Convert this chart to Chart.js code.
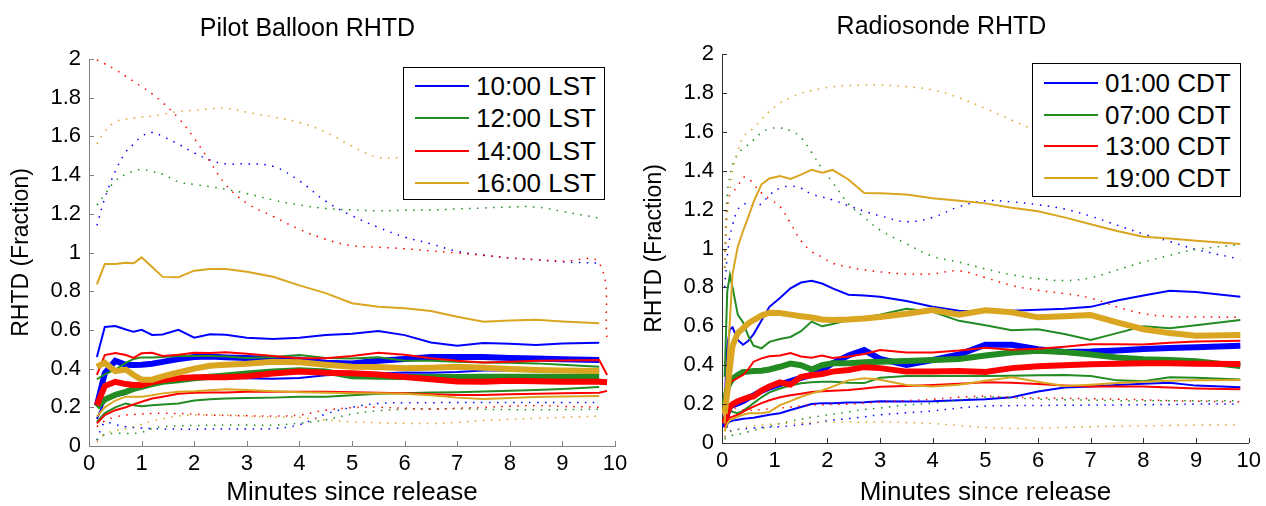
<!DOCTYPE html>
<html>
<head>
<meta charset="utf-8">
<script src="https://cdn.jsdelivr.net/npm/chart.js@4.4.1/dist/chart.umd.min.js"></script>
<style>
body { margin: 0; background: #fff; font-family: "Liberation Sans", Arial, sans-serif; }
#wrap { position: relative; width: 1266px; height: 506px; overflow: hidden; }
.panel { position: absolute; top: 0; width: 633px; height: 506px; }
.legend { position: absolute; background: #fff; border: 1px solid #000; box-sizing: border-box; }
.legend .sw { position: absolute; height: 2px; }
.legend .tx { position: absolute; font-size: 26px; line-height: 30px; color: #000; white-space: nowrap; }
</style>
</head>
<body>
<div id="wrap">
  <div class="panel" style="left:0"><canvas id="pb" width="633" height="506"></canvas></div>
  <div class="panel" style="left:633px"><canvas id="rs" width="633" height="506"></canvas></div>
  <div class="legend" id="pbLegend" style="left:403px;top:67px;width:202px;height:133px"></div>
  <div class="legend" id="rsLegend" style="left:1032px;top:63px;width:209px;height:134px"></div>
</div>
<script>
// ---- Pilot balloon (left) ----
const pbTime = [0.15,0.3,0.5,0.7,0.85,1,1.2,1.4,1.7,2,2.3,2.6,3,3.5,4,4.5,5,5.5,6,6.5,7,7.5,8,8.5,9,9.7,9.85];
const pbLabels = ['10:00 LST','12:00 LST','14:00 LST','16:00 LST'];

const pb10HiDot = [1.14,1.28,1.42,1.52,1.56,1.60,1.62,1.60,1.56,1.515,1.478,1.458,1.458,1.445,1.37,1.265,1.19,1.13,1.08,1.045,1.006,0.987,0.972,0.962,0.952,0.945];
const pb10Hi    = [0.46,0.615,0.62,0.602,0.59,0.60,0.574,0.576,0.60,0.56,0.577,0.575,0.56,0.553,0.56,0.574,0.58,0.594,0.573,0.535,0.518,0.532,0.528,0.522,0.53,0.534];
const pb10Med   = [0.21,0.376,0.44,0.42,0.418,0.42,0.425,0.435,0.45,0.46,0.462,0.458,0.455,0.45,0.446,0.43,0.427,0.44,0.45,0.46,0.46,0.46,0.455,0.452,0.448,0.444];
const pb10Lo    = [0.14,0.235,0.255,0.27,0.29,0.305,0.32,0.33,0.34,0.35,0.352,0.352,0.35,0.348,0.352,0.365,0.372,0.375,0.38,0.378,0.382,0.39,0.39,0.39,0.39,0.39];
const pb10LoDot = [0.03,0.12,0.11,0.1,0.095,0.093,0.09,0.088,0.087,0.086,0.088,0.088,0.088,0.09,0.11,0.165,0.2,0.22,0.223,0.224,0.225,0.225,0.225,0.225,0.225,0.225];

const pb12HiDot = [1.245,1.30,1.37,1.405,1.42,1.43,1.418,1.405,1.365,1.352,1.34,1.327,1.305,1.271,1.246,1.228,1.22,1.216,1.218,1.22,1.225,1.23,1.235,1.235,1.212,1.178];
const pb12Hi    = [0.345,0.37,0.395,0.43,0.45,0.458,0.458,0.46,0.465,0.465,0.465,0.462,0.455,0.46,0.47,0.455,0.452,0.458,0.44,0.44,0.435,0.432,0.43,0.427,0.42,0.41];
const pb12Med   = [0.2,0.24,0.265,0.28,0.295,0.306,0.32,0.332,0.34,0.35,0.358,0.365,0.375,0.385,0.392,0.385,0.36,0.358,0.357,0.356,0.356,0.358,0.358,0.358,0.358,0.36];
const pb12Lo    = [0.125,0.17,0.2,0.22,0.21,0.206,0.21,0.215,0.22,0.235,0.242,0.245,0.248,0.25,0.255,0.255,0.262,0.27,0.273,0.276,0.278,0.282,0.285,0.29,0.295,0.305];
const pb12LoDot = [0.03,0.06,0.065,0.065,0.065,0.07,0.09,0.1,0.104,0.106,0.107,0.108,0.108,0.108,0.118,0.135,0.165,0.182,0.19,0.193,0.192,0.19,0.188,0.187,0.188,0.19];

const pb14HiDot = [1.995,1.975,1.945,1.91,1.885,1.857,1.82,1.775,1.695,1.59,1.47,1.35,1.255,1.187,1.12,1.068,1.035,1.027,1.02,1.008,0.998,0.985,0.972,0.963,0.955,0.945,0.55];
const pb14Hi    = [0.367,0.47,0.48,0.47,0.455,0.479,0.482,0.465,0.472,0.482,0.48,0.484,0.477,0.465,0.453,0.453,0.465,0.482,0.472,0.453,0.44,0.432,0.436,0.44,0.442,0.444,0.367];
const pb14Med   = [0.21,0.31,0.332,0.32,0.315,0.315,0.33,0.341,0.35,0.355,0.355,0.355,0.36,0.375,0.385,0.378,0.376,0.37,0.357,0.345,0.333,0.332,0.337,0.335,0.332,0.332,0.33];
const pb14Lo    = [0.117,0.16,0.185,0.2,0.215,0.229,0.245,0.255,0.27,0.275,0.276,0.277,0.28,0.28,0.28,0.28,0.278,0.275,0.272,0.267,0.263,0.264,0.267,0.27,0.273,0.275,0.285];
const pb14LoDot = [0.1,0.13,0.15,0.16,0.163,0.165,0.168,0.169,0.168,0.165,0.16,0.158,0.156,0.155,0.16,0.185,0.198,0.2,0.195,0.19,0.195,0.2,0.205,0.208,0.205,0.2];

const pb16HiDot = [1.56,1.625,1.675,1.688,1.695,1.70,1.705,1.715,1.728,1.735,1.742,1.745,1.725,1.70,1.672,1.622,1.55,1.492,1.49,1.48,1.47,1.46,1.45,1.44,1.43,1.42];
const pb16Hi    = [0.835,0.94,0.94,0.947,0.944,0.975,0.925,0.874,0.872,0.906,0.915,0.915,0.9,0.875,0.83,0.79,0.738,0.72,0.712,0.698,0.668,0.642,0.648,0.652,0.643,0.634];
const pb16Med   = [0.41,0.43,0.387,0.395,0.367,0.343,0.343,0.36,0.38,0.40,0.415,0.42,0.425,0.435,0.433,0.42,0.41,0.408,0.402,0.405,0.41,0.405,0.398,0.393,0.39,0.388];
const pb16Lo    = [0.152,0.2,0.235,0.255,0.255,0.255,0.262,0.272,0.28,0.283,0.288,0.293,0.29,0.283,0.278,0.275,0.272,0.272,0.27,0.262,0.25,0.243,0.248,0.253,0.256,0.258];
const pb16LoDot = [0.02,0.06,0.08,0.09,0.1,0.112,0.13,0.14,0.155,0.16,0.16,0.16,0.155,0.15,0.148,0.135,0.125,0.12,0.117,0.116,0.122,0.132,0.138,0.143,0.148,0.155];

// ---- Radiosonde (right) ----
const rsTime = [0.05,0.1,0.15,0.2,0.3,0.4,0.5,0.6,0.75,0.9,1.1,1.3,1.5,1.7,1.9,2.1,2.4,2.7,3,3.5,4,4.5,5,5.5,6,6.5,7,7.5,8,8.5,9,9.84];
const rsLabels = ['01:00 CDT','07:00 CDT','13:00 CDT','19:00 CDT'];

const rs01HiDot = [0.8,0.96,1.06,1.12,1.2,1.225,1.232,1.22,1.23,1.275,1.31,1.32,1.31,1.28,1.265,1.25,1.22,1.192,1.168,1.138,1.16,1.215,1.245,1.24,1.225,1.203,1.166,1.12,1.075,1.036,0.995,0.945];
const rs01Hi    = [0.2,0.5,0.585,0.595,0.53,0.505,0.525,0.56,0.63,0.7,0.745,0.795,0.825,0.834,0.82,0.795,0.762,0.758,0.752,0.73,0.701,0.68,0.678,0.68,0.685,0.69,0.7,0.733,0.758,0.783,0.776,0.752];
const rs01Med   = [0.08,0.15,0.187,0.195,0.204,0.215,0.232,0.245,0.268,0.285,0.302,0.318,0.335,0.35,0.375,0.41,0.45,0.478,0.432,0.401,0.427,0.455,0.505,0.505,0.482,0.468,0.47,0.476,0.483,0.488,0.492,0.5];
const rs01Lo    = [0.08,0.1,0.11,0.115,0.12,0.125,0.127,0.13,0.138,0.145,0.153,0.17,0.185,0.2,0.205,0.205,0.208,0.21,0.215,0.213,0.215,0.22,0.225,0.235,0.265,0.285,0.29,0.298,0.305,0.31,0.295,0.286];
const rs01LoDot = [0.03,0.05,0.06,0.065,0.07,0.072,0.075,0.077,0.08,0.082,0.084,0.088,0.095,0.1,0.11,0.118,0.125,0.135,0.145,0.155,0.165,0.18,0.19,0.192,0.193,0.194,0.195,0.196,0.197,0.198,0.2,0.2];

const rs07HiDot = [0.9,1.28,1.37,1.43,1.485,1.515,1.535,1.558,1.595,1.615,1.62,1.605,1.57,1.495,1.41,1.34,1.23,1.16,1.095,1.025,0.96,0.93,0.895,0.865,0.845,0.835,0.85,0.89,0.93,0.965,0.995,1.02];
const rs07Hi    = [0.34,0.78,0.864,0.8,0.66,0.62,0.55,0.5,0.487,0.52,0.535,0.545,0.575,0.624,0.6,0.612,0.632,0.645,0.66,0.69,0.675,0.628,0.605,0.58,0.585,0.56,0.53,0.565,0.6,0.59,0.605,0.632];
const rs07Med   = [0.2,0.28,0.31,0.33,0.35,0.365,0.367,0.37,0.372,0.378,0.392,0.408,0.4,0.378,0.4,0.41,0.41,0.415,0.418,0.422,0.427,0.432,0.45,0.465,0.474,0.468,0.455,0.44,0.43,0.427,0.42,0.396];
const rs07Lo    = [0.12,0.16,0.17,0.16,0.153,0.165,0.185,0.205,0.235,0.26,0.28,0.295,0.307,0.312,0.315,0.315,0.31,0.308,0.335,0.344,0.344,0.344,0.344,0.346,0.348,0.35,0.345,0.322,0.318,0.338,0.335,0.327];
const rs07LoDot = [0.02,0.03,0.035,0.04,0.045,0.05,0.058,0.065,0.075,0.085,0.1,0.112,0.122,0.132,0.14,0.148,0.16,0.172,0.18,0.195,0.205,0.222,0.236,0.232,0.225,0.222,0.22,0.218,0.217,0.217,0.217,0.217];

const rs13HiDot = [0.9,1.2,1.28,1.29,1.32,1.365,1.36,1.33,1.285,1.255,1.215,1.13,1.04,0.985,0.955,0.925,0.905,0.89,0.88,0.869,0.87,0.885,0.85,0.81,0.785,0.768,0.745,0.7,0.665,0.65,0.648,0.646];
const rs13Hi    = [0.2,0.29,0.31,0.32,0.335,0.35,0.38,0.418,0.435,0.446,0.45,0.462,0.445,0.438,0.45,0.437,0.445,0.458,0.478,0.465,0.465,0.475,0.49,0.48,0.485,0.495,0.508,0.508,0.506,0.515,0.522,0.526];
const rs13Med   = [0.1,0.155,0.185,0.2,0.215,0.225,0.235,0.24,0.27,0.29,0.312,0.3,0.34,0.348,0.355,0.367,0.375,0.39,0.385,0.367,0.368,0.37,0.365,0.385,0.395,0.4,0.405,0.408,0.41,0.41,0.408,0.406];
const rs13Lo    = [0.08,0.12,0.13,0.135,0.145,0.16,0.175,0.187,0.205,0.22,0.235,0.245,0.253,0.262,0.266,0.268,0.272,0.28,0.289,0.293,0.298,0.305,0.312,0.31,0.303,0.296,0.29,0.29,0.29,0.285,0.28,0.276];
const rs13LoDot = [0.15,0.19,0.19,0.185,0.175,0.17,0.168,0.17,0.172,0.175,0.18,0.185,0.19,0.195,0.197,0.198,0.2,0.205,0.21,0.218,0.225,0.235,0.24,0.235,0.232,0.23,0.228,0.225,0.222,0.218,0.215,0.212];

const rs19HiDot = [0.9,1.18,1.3,1.4,1.5,1.575,1.595,1.62,1.665,1.705,1.748,1.775,1.798,1.812,1.823,1.832,1.838,1.84,1.84,1.832,1.815,1.775,1.72,1.66,1.6,1.54,1.48,1.43,1.39,1.36,1.33,1.3];
const rs19Hi    = [0.1,0.4,0.63,0.87,1.01,1.09,1.163,1.24,1.33,1.36,1.373,1.358,1.38,1.405,1.39,1.404,1.355,1.285,1.284,1.278,1.258,1.245,1.232,1.21,1.192,1.16,1.125,1.09,1.061,1.052,1.04,1.023];
const rs19Med   = [0.15,0.26,0.39,0.5,0.565,0.59,0.615,0.632,0.655,0.67,0.668,0.66,0.652,0.645,0.635,0.632,0.635,0.64,0.648,0.665,0.684,0.66,0.682,0.672,0.646,0.652,0.658,0.62,0.585,0.565,0.552,0.555];
const rs19Lo    = [0.06,0.1,0.118,0.125,0.135,0.145,0.153,0.153,0.153,0.16,0.195,0.215,0.238,0.255,0.27,0.29,0.322,0.333,0.325,0.298,0.29,0.3,0.32,0.338,0.315,0.293,0.3,0.308,0.315,0.32,0.322,0.324];
const rs19LoDot = [0.03,0.045,0.055,0.062,0.07,0.078,0.084,0.088,0.092,0.096,0.1,0.102,0.104,0.106,0.107,0.108,0.108,0.108,0.108,0.105,0.1,0.09,0.08,0.075,0.077,0.08,0.084,0.086,0.088,0.09,0.092,0.093];

const colors = ['#0000ff','#228b22','#ff0000','#daa520'];
const FONT = '"Liberation Sans", Arial, sans-serif';

function line(xs, ys, c, kind) {
  var w = kind == 'thick' ? 6 : (kind == 'dot' ? 1.5 : 2);
  return {
    data: xs.map((x, i) => ({x: x, y: ys[i] === undefined ? null : ys[i]})),
    borderColor: colors[c],
    borderWidth: w,
    borderDash: kind == 'dot' ? [1.5, 6.5] : [],
    pointRadius: 0,
    tension: kind == 'dot' ? 0.4 : 0,
    fill: false,
    order: 3 - c   // gold drawn last (on top)
  };
}

function group(xs, c, hiDot, hi, med, lo, loDot) {
  return [line(xs, hiDot, c, 'dot'), line(xs, loDot, c, 'dot'),
          line(xs, hi, c, 'thin'), line(xs, lo, c, 'thin'), line(xs, med, c, 'thick')];
}

// matlab style ticks pointing into the plot
const innerTicks = {
  id: 'innerTicks',
  afterDraw(chart, args, opts) {
    const ctx = chart.ctx, a = chart.chartArea, x = chart.scales.x, y = chart.scales.y;
    ctx.save();
    ctx.strokeStyle = opts.color;
    ctx.lineWidth = 1;
    ctx.beginPath();
    x.ticks.forEach(t => {
      var p = Math.round(x.getPixelForValue(t.value)) + 0.5;
      ctx.moveTo(p, a.bottom); ctx.lineTo(p, a.bottom - 5);
    });
    y.ticks.forEach(t => {
      var p = Math.round(y.getPixelForValue(t.value)) + 0.5;
      ctx.moveTo(a.left, p); ctx.lineTo(a.left + 5, p);
    });
    ctx.stroke();
    ctx.restore();
  }
};

function makeChart(id, title, datasets, o) {
  return new Chart(document.getElementById(id), {
    type: 'line',
    data: {datasets: datasets},
    options: {
      responsive: false,
      animation: false,
      events: [],
      layout: {padding: {left: 0, right: o.right, top: 0, bottom: 0}},
      plugins: {
        legend: {display: false},
        tooltip: {enabled: false},
        title: {display: true, text: title, color: '#000',
                font: {family: FONT, size: 25, weight: 'normal', lineHeight: 1.2},
                padding: {top: o.titleTop, bottom: o.titleBottom}},
        innerTicks: {color: o.axis}
      },
      scales: {
        x: {
          type: 'linear', min: 0, max: 10,
          ticks: {stepSize: 1, color: '#000', font: {family: FONT, size: 22}, padding: 5, maxRotation: 0},
          grid: {display: false, drawTicks: false},
          border: {display: true, color: o.axis, width: 1},
          title: {display: true, text: 'Minutes since release', color: '#000',
                  font: {family: FONT, size: 26, lineHeight: 1}, padding: {top: 0, bottom: 0}},
          afterFit: s => { s.height = o.xh; }
        },
        y: {
          min: 0, max: 2,
          ticks: {stepSize: 0.2, color: '#000', font: {family: FONT, size: 22}, padding: 8,
                  callback: v => String(Math.round(v * 10) / 10)},
          grid: {display: false, drawTicks: false},
          border: {display: true, color: o.axis, width: 1},
          title: {display: true, text: 'RHTD (Fraction)', color: '#000',
                  font: {family: FONT, size: 23, lineHeight: 1}, padding: {top: 10}},
          afterFit: s => { s.width = 89; }
        }
      }
    },
    plugins: [innerTicks]
  });
}

function makeLegend(id, labels, rowTop, gap) {
  var box = document.getElementById(id);
  labels.forEach((lab, i) => {
    var cy = rowTop + i * gap;
    var sw = document.createElement('div');
    sw.className = 'sw';
    sw.style.cssText = 'left:11px;width:54px;top:' + (cy - 1) + 'px;background:' + colors[i];
    var tx = document.createElement('div');
    tx.className = 'tx';
    tx.style.cssText = 'left:72px;top:' + (cy - 15) + 'px';
    tx.textContent = lab;
    box.appendChild(sw);
    box.appendChild(tx);
  });
}

var pbSets = [].concat(
  group(pbTime, 0, pb10HiDot, pb10Hi, pb10Med, pb10Lo, pb10LoDot),
  group(pbTime, 1, pb12HiDot, pb12Hi, pb12Med, pb12Lo, pb12LoDot),
  group(pbTime, 2, pb14HiDot, pb14Hi, pb14Med, pb14Lo, pb14LoDot),
  group(pbTime, 3, pb16HiDot, pb16Hi, pb16Med, pb16Lo, pb16LoDot));
var rsSets = [].concat(
  group(rsTime, 0, rs01HiDot, rs01Hi, rs01Med, rs01Lo, rs01LoDot),
  group(rsTime, 1, rs07HiDot, rs07Hi, rs07Med, rs07Lo, rs07LoDot),
  group(rsTime, 2, rs13HiDot, rs13Hi, rs13Med, rs13Lo, rs13LoDot),
  group(rsTime, 3, rs19HiDot, rs19Hi, rs19Med, rs19Lo, rs19LoDot));

makeChart('pb', 'Pilot Balloon RHTD', pbSets, {right: 18, titleTop: 14, titleBottom: 15, xh: 60, axis: '#808080'});
makeChart('rs', 'Radiosonde RHTD', rsSets, {right: 16, titleTop: 12, titleBottom: 12, xh: 63, axis: '#333333'});
makeLegend('pbLegend', pbLabels, 18, 32.3);
makeLegend('rsLegend', rsLabels, 19, 31.7);
</script>
</body>
</html>
